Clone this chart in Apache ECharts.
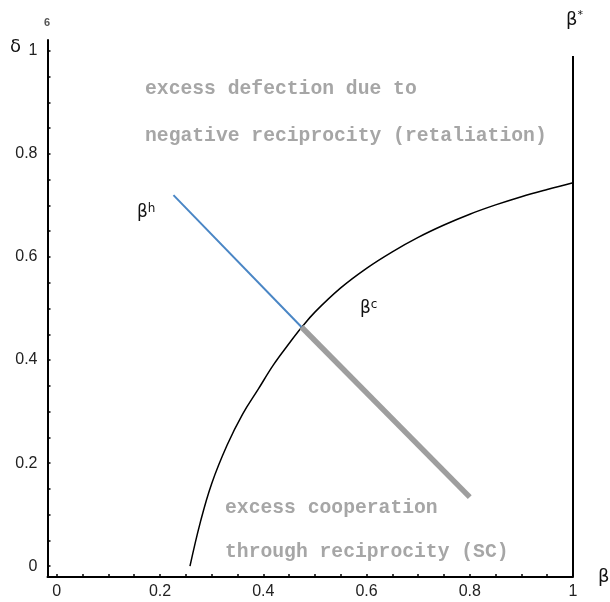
<!DOCTYPE html>
<html>
<head>
<meta charset="utf-8">
<script src="https://cdn.jsdelivr.net/npm/echarts@6/dist/echarts.min.js"></script>
<style>html,body{margin:0;padding:0;background:#fff}#c{width:610px;height:602px}</style>
</head>
<body>
<div id="c"></div>
<script>
const xTickValues = [0,0.05,0.1,0.15,0.2,0.25,0.3,0.35,0.4,0.45,0.5,0.55,0.6,0.65,0.7,0.75,0.8,0.85,0.9,0.95,1];
const yTickValues = [0,0.05,0.1,0.15,0.2,0.25,0.3,0.35,0.4,0.45,0.5,0.55,0.6,0.65,0.7,0.75,0.8,0.85,0.9,0.95,1];
const xLabelValues = [0,0.2,0.4,0.6,0.8,1];
const yLabelValues = [0,0.2,0.4,0.6,0.8,1];

const betaCx = [0.258,0.278,0.30,0.33,0.36,0.39,0.42,0.45,0.474,0.50,0.55,0.60,0.65,0.70,0.75,0.80,0.85,0.90,0.95,1.0];
const betaCy = [0,0.085,0.16,0.235,0.295,0.343,0.391,0.432,0.463,0.493,0.54,0.578,0.61,0.638,0.662,0.683,0.701,0.717,0.731,0.744];
const betaHx = [0.226,0.474];
const betaHy = [0.72,0.464];
const scX = [0.474,0.80];
const scY = [0.464,0.134];
const starX = [1,1];
const starY = [-0.021,0.99];

const zip = (a,b)=>a.map((v,i)=>[v,b[i]]);
const fmt = v => (Math.abs(v-1)<1e-9 ? '1' : (Math.abs(v)<1e-9 ? '0' : String(+v.toFixed(1))));

const chart = echarts.init(document.getElementById('c'));
const gray = '#a6a6a6';
const slab = {fontFamily:'Liberation Mono', fontWeight:'bold', fontSize:19.7, fill:gray};
chart.setOption({
  animation:false,
  grid:{left:47.5,right:37,top:40,bottom:25,containLabel:false},
  xAxis:{type:'value',min:-0.018,max:1,
    axisLine:{onZero:false,lineStyle:{color:'#000',width:2}},
    splitLine:{show:false},
    axisTick:{inside:true,length:3,customValues:xTickValues,lineStyle:{color:'#000',width:1.5}},
    axisLabel:{customValues:xLabelValues,formatter:fmt,color:'#222',fontFamily:'Liberation Sans',fontSize:16,margin:7}},
  yAxis:{type:'value',min:-0.021,max:1.021,
    axisLine:{show:true,onZero:false,lineStyle:{color:'#000',width:2}},
    splitLine:{show:false},
    axisTick:{inside:true,length:3,customValues:yTickValues,lineStyle:{color:'#000',width:1.5}},
    axisLabel:{customValues:yLabelValues,formatter:fmt,color:'#222',fontFamily:'Liberation Sans',fontSize:16,margin:10}},
  series:[
    {type:'line',data:zip(betaCx,betaCy),smooth:0.4,symbol:'none',lineStyle:{color:'#000',width:1.5}},
    {type:'line',data:zip(betaHx,betaHy),symbol:'none',lineStyle:{color:'#4a86c5',width:2}},
    {type:'line',data:zip(scX,scY),symbol:'none',lineStyle:{color:'#9e9e9e',width:5.5}},
    {type:'line',data:zip(starX,starY),symbol:'none',lineStyle:{color:'#000',width:2}}
  ],
  graphic:[
    {type:'text',left:145,top:79,style:Object.assign({text:'excess defection due to'},slab)},
    {type:'text',left:145,top:126,style:Object.assign({text:'negative reciprocity (retaliation)'},slab)},
    {type:'text',left:225,top:498,style:Object.assign({text:'excess cooperation'},slab)},
    {type:'text',left:225,top:542,style:Object.assign({text:'through reciprocity (SC)'},slab)},
    {type:'text',left:137,top:203,style:{rich:{b:{fontSize:17,fontFamily:'DejaVu Sans',fill:'#111'},s:{fontSize:12,fontFamily:'DejaVu Sans',fill:'#111',padding:[0,0,8,0]}},text:'{b|β}{s|h}'}},
    {type:'text',left:360,top:299,style:{rich:{b:{fontSize:17,fontFamily:'DejaVu Sans',fill:'#111'},s:{fontSize:12,fontFamily:'DejaVu Sans',fill:'#111',padding:[0,0,8,0]}},text:'{b|β}{s|c}'}},
    {type:'text',left:566,top:10,style:{rich:{b:{fontSize:18,fontFamily:'DejaVu Sans',fill:'#111'},s:{fontSize:11,fontFamily:'DejaVu Sans',fill:'#111',padding:[0,0,10,0]}},text:'{b|β}{s|*}'}},
    {type:'text',left:598,top:568,style:{text:'β',fontSize:18,fontFamily:'DejaVu Sans',fill:'#111'}},
    {type:'text',left:10,top:38,style:{text:'δ',fontSize:18,fontFamily:'DejaVu Sans',fill:'#111'}},
    {type:'text',left:44,top:17,style:{text:'6',fontSize:11,fontWeight:'bold',fontFamily:'Liberation Sans',fill:'#555'}}
  ]
});
</script>
</body>
</html>
